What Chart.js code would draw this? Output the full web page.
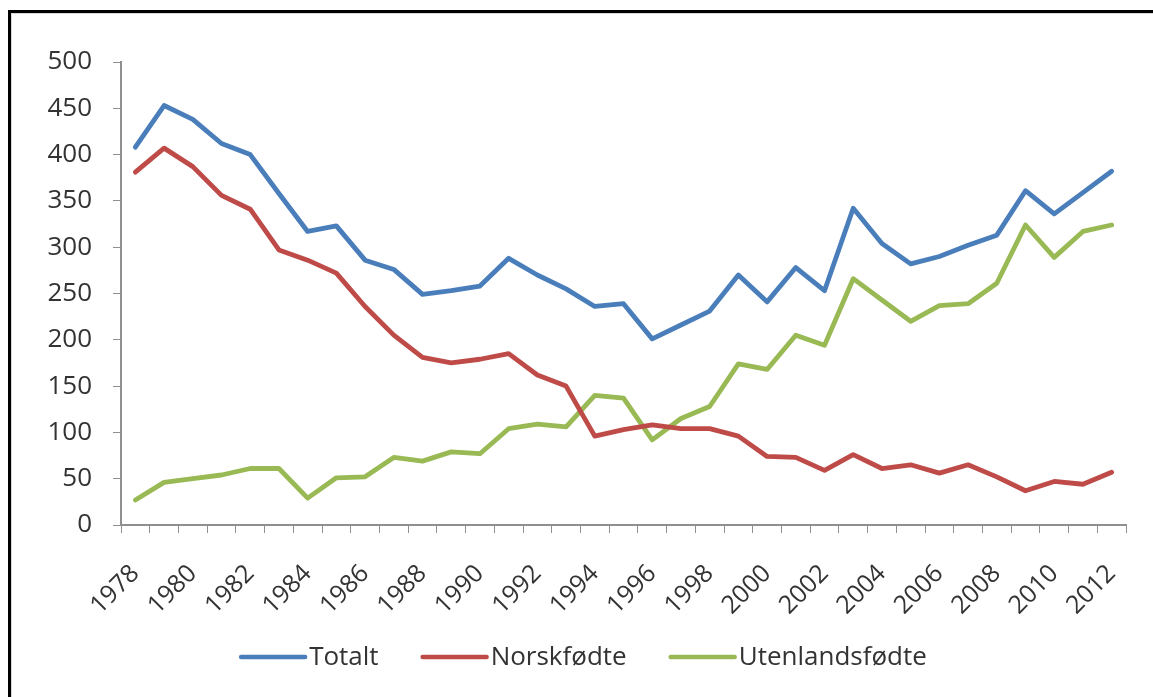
<!DOCTYPE html>
<html>
<head>
<meta charset="utf-8">
<script src="https://cdn.jsdelivr.net/npm/chart.js@4/dist/chart.umd.min.js"></script>
<style>
  html, body { margin: 0; padding: 0; background: #fff; }
  #wrap { position: relative; width: 1153px; height: 697px; }
</style>
</head>
<body>
<div id="wrap"><canvas id="c" width="1153" height="697"></canvas></div>
<script>
const years = ['1978','1979','1980','1981','1982','1983','1984','1985','1986','1987','1988',
  '1989','1990','1991','1992','1993','1994','1995','1996','1997','1998',
  '1999','2000','2001','2002','2003','2004','2005','2006','2007','2008','2009','2010','2011','2012'];

const totalt = [408,453,438,412,400,358,317,323,286,276,249,
  253,258,288,270,255,236,239,201,216,231,
  270,241,278,253,342,304,282,290,302,313,361,336,359,382];

const norskfodte = [381,407,387,356,341,297,286,272,236,205,181,
  175,179,185,162,150,96,103,108,104,104,
  96,74,73,59,76,61,65,56,65,52,37,47,44,57];

const utenlandsfodte = [27,46,50,54,61,61,29,51,52,73,69,
  79,77,104,109,106,140,137,92,115,128,
  174,168,205,194,266,243,220,237,239,261,324,289,317,324];

const seriesNames = ['Totalt', 'Norskfødte', 'Utenlandsfødte'];
const yTicks = [0, 50, 100, 150, 200, 250, 300, 350, 400, 450, 500];

const FONT = '"Open Sans", "Liberation Sans", sans-serif';
const TXT = '#333333';
const AXIS = '#8f8f8f';

const framePlugin = {
  id: 'frame',
  beforeDraw(chart) {
    const ctx = chart.ctx;
    ctx.save();
    ctx.fillStyle = '#fff';
    ctx.fillRect(0, 0, chart.width, chart.height);
    ctx.fillStyle = '#000';
    ctx.fillRect(8, 10, chart.width - 8, 3);
    ctx.fillRect(8, 10, 3, chart.height - 10);
    ctx.fillStyle = '#d8d8d8';
    ctx.fillRect(11, 13, chart.width - 11, 1);
    ctx.fillRect(11, 13, 1, chart.height - 13);
    ctx.restore();
  }
};

const legendPlugin = {
  id: 'customLegend',
  afterDraw(chart) {
    const ctx = chart.ctx;
    const ds = chart.data.datasets;
    const lineLen = 64, gap = 4, itemGap = 44, cy = 657;
    ctx.save();
    ctx.font = '26px ' + FONT;
    ctx.textBaseline = 'middle';
    const widths = ds.map(d => lineLen + gap + ctx.measureText(d.label).width);
    const total = widths.reduce((a, b) => a + b, 0) + itemGap * (ds.length - 1);
    let x = 584 - total / 2;
    ds.forEach((d, i) => {
      ctx.strokeStyle = d.borderColor;
      ctx.lineWidth = 4.5;
      ctx.lineCap = 'round';
      ctx.beginPath();
      ctx.moveTo(x, cy);
      ctx.lineTo(x + lineLen, cy);
      ctx.stroke();
      ctx.fillStyle = TXT;
      ctx.textAlign = 'left';
      ctx.fillText(d.label, x + lineLen + gap, cy + 1);
      x += widths[i] + itemGap;
    });
    ctx.restore();
  }
};

const colors = ['#4A7EBB', '#BE4B48', '#98B954'];
const seriesData = [totalt, norskfodte, utenlandsfodte];

new Chart(document.getElementById('c'), {
  type: 'line',
  data: {
    labels: years,
    datasets: seriesNames.map((name, i) => ({
      label: name,
      data: seriesData[i],
      borderColor: colors[i],
      backgroundColor: colors[i],
      borderWidth: 4.8,
      pointRadius: 0,
      pointHoverRadius: 0,
      tension: 0,
      fill: false,
      borderJoinStyle: 'round',
      borderCapStyle: 'round'
    }))
  },
  options: {
    responsive: false,
    animation: false,
    events: [],
    layout: { padding: { top: 62, right: 27, left: 0, bottom: 0 } },
    plugins: {
      legend: { display: false },
      tooltip: { enabled: false },
      title: { display: false }
    },
    scales: {
      x: {
        type: 'category',
        offset: true,
        grid: {
          offset: true,
          drawOnChartArea: false,
          drawTicks: true,
          tickLength: 8,
          color: AXIS,
          lineWidth: 1
        },
        border: { display: true, color: AXIS, width: 2 },
        ticks: {
          autoSkip: false,
          maxRotation: 45,
          minRotation: 45,
          padding: 26,
          color: TXT,
          font: { family: FONT, size: 25 },
          callback: function(v, i) { return i % 2 === 0 ? this.getLabelForValue(v) : ''; }
        },
        afterFit: s => { s.height = 172; s.paddingLeft = 0; s.paddingRight = 0; }
      },
      y: {
        min: 0,
        max: 500,
        afterBuildTicks: s => { s.ticks = yTicks.map(v => ({ value: v })); },
        grid: {
          drawOnChartArea: false,
          drawTicks: true,
          tickLength: 8,
          color: AXIS,
          lineWidth: 1
        },
        border: { display: true, color: AXIS, width: 2 },
        ticks: {
          padding: 21,
          color: TXT,
          font: { family: FONT, size: 26 }
        },
        afterFit: s => { s.width = 121; s.paddingTop = 0; s.paddingBottom = 0; }
      }
    }
  },
  plugins: [framePlugin, legendPlugin]
});
</script>
</body>
</html>
